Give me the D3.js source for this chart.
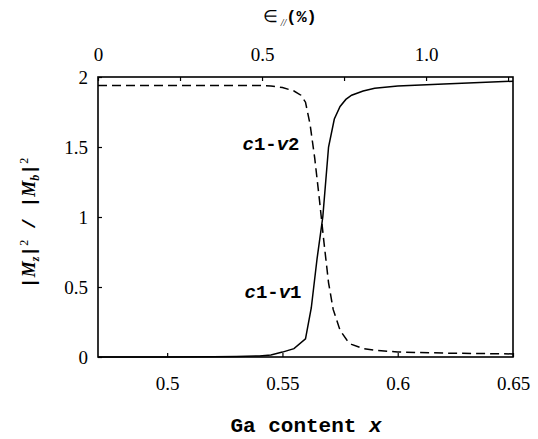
<!DOCTYPE html>
<html><head><meta charset="utf-8">
<script src="https://cdn.jsdelivr.net/npm/d3@7"></script>
<style>
body{margin:0;background:#fff}
</style>
</head><body>
<svg id="c" width="538" height="439"></svg>
<script>
const solidX = [0.47,0.50,0.52,0.53,0.54,0.545,0.55,0.555,0.56,0.5625,0.565,0.5675,0.57,0.5725,0.575,0.5775,0.58,0.585,0.59,0.60,0.62,0.65];
const solidY = [0,0,0.001,0.003,0.008,0.015,0.035,0.06,0.13,0.35,0.7,1.0,1.5,1.70,1.79,1.84,1.87,1.90,1.92,1.935,1.95,1.97];
const dashX = [0.47,0.50,0.53,0.54,0.545,0.55,0.555,0.558,0.56,0.562,0.564,0.566,0.568,0.570,0.572,0.575,0.578,0.58,0.585,0.59,0.60,0.62,0.65];
const dashY = [1.94,1.94,1.94,1.94,1.935,1.925,1.9,1.87,1.82,1.66,1.42,1.13,0.82,0.53,0.34,0.19,0.12,0.09,0.06,0.048,0.036,0.028,0.022];
const xTicks = [0.5,0.55,0.6,0.65];
const xTickLabels = ["0.5","0.55","0.6","0.65"];
const yTicks = [0,0.5,1,1.5,2];
const yTickLabels = ["0","0.5","1","1.5","2"];
const topTicks = [0,0.25,0.5,0.75,1.0,1.25];
const topLabeled = [0,0.5,1.0];
const topLabels = ["0","0.5","1.0"];

const SERIF = "Liberation Serif";
const MONO = "Liberation Mono";
const L=98,R=513,T=77,B=357;
const svg=d3.select("#c");
const x=d3.scaleLinear().domain([0.47,0.65]).range([L,R]);
const y=d3.scaleLinear().domain([0,2]).range([B,T]);
const xs=d3.scaleLinear().domain([0,1.265]).range([L,R]);

const bAxis=svg.append("g").attr("transform",`translate(0,${B})`)
  .call(d3.axisBottom(x).tickValues(xTicks).tickSize(-4).tickFormat((d,i)=>xTickLabels[i]).tickPadding(20));
const lAxis=svg.append("g").attr("transform",`translate(${L},0)`)
  .call(d3.axisLeft(y).tickValues(yTicks).tickSize(-4).tickFormat((d,i)=>yTickLabels[i]).tickPadding(10));
const tAxis=svg.append("g").attr("transform",`translate(0,${T})`)
  .call(d3.axisTop(xs).tickValues(topTicks).tickSize(-4).tickFormat(d=>{const k=topLabeled.indexOf(d);return k>=0?topLabels[k]:"";}).tickPadding(16));
[bAxis,lAxis,tAxis].forEach(a=>{
  a.attr("font-family",SERIF).attr("font-size",19);
  a.select(".domain").remove();
  a.selectAll(".tick line").attr("stroke","#000").attr("stroke-width",1.2);
  a.selectAll(".tick text").style("font-family",SERIF).style("font-size","19px").attr("fill","#000");
});
lAxis.selectAll("text").attr("dy","0.35em");

svg.append("rect").attr("x",L).attr("y",T).attr("width",R-L).attr("height",B-T)
  .attr("fill","none").attr("stroke","#000").attr("stroke-width",1.6);

const line=d3.line().x(d=>x(d[0])).y(d=>y(d[1]));
svg.append("path").datum(solidX.map((v,i)=>[v,solidY[i]])).attr("d",line)
  .attr("fill","none").attr("stroke","#000").attr("stroke-width",1.5);
svg.append("path").datum(dashX.map((v,i)=>[v,dashY[i]])).attr("d",line)
  .attr("fill","none").attr("stroke","#000").attr("stroke-width",1.5).attr("stroke-dasharray","9,5");

function lab(txt,cx,by){
  const t=svg.append("text").attr("x",cx).attr("y",by).attr("text-anchor","middle")
    .style("font-family",MONO).style("font-weight","bold").style("font-size","19px");
  t.append("tspan").style("font-style","italic").text("c");
  t.append("tspan").text("1-");
  t.append("tspan").style("font-style","italic").text("v");
  t.append("tspan").text(txt);
}
lab("2",271,150);
lab("1",273,298);

const xl=svg.append("text").attr("x",306).attr("y",432).attr("text-anchor","middle")
  .style("font-family",MONO).style("font-weight","bold").style("font-size","21px");
xl.append("tspan").text("Ga content ");
xl.append("tspan").style("font-style","italic").text("x");

const tl=svg.append("text").attr("x",290).attr("y",22).attr("text-anchor","middle")
  .style("font-family",MONO).style("font-weight","bold").style("font-size","17px");
tl.append("tspan").style("font-family",SERIF).style("font-weight","normal").text("∈");
tl.append("tspan").style("font-family",SERIF).style("font-weight","normal").style("font-style","italic").style("font-size","10px").attr("dy",4).text(" //");
tl.append("tspan").attr("dy",-4).text("(%)");

const yl=svg.append("text").attr("transform","translate(35,223) rotate(-90)").attr("text-anchor","middle")
  .style("font-family",MONO).style("font-weight","bold").style("font-size","18px");
yl.append("tspan").text("|");
yl.append("tspan").style("font-family",SERIF).style("font-style","italic").text("M");
yl.append("tspan").style("font-family",SERIF).style("font-style","italic").style("font-size","12px").attr("dy",4).text("z");
yl.append("tspan").attr("dy",-4).text("|");
yl.append("tspan").style("font-family",SERIF).style("font-weight","normal").style("font-size","12px").attr("dy",-7).text("2");
yl.append("tspan").attr("dy",7).text(" / |");
yl.append("tspan").style("font-family",SERIF).style("font-style","italic").text("M");
yl.append("tspan").style("font-family",SERIF).style("font-style","italic").style("font-size","12px").attr("dy",4).text("b");
yl.append("tspan").attr("dy",-4).text("|");
yl.append("tspan").style("font-family",SERIF).style("font-weight","normal").style("font-size","12px").attr("dy",-7).text("2");
</script>
</body></html>
